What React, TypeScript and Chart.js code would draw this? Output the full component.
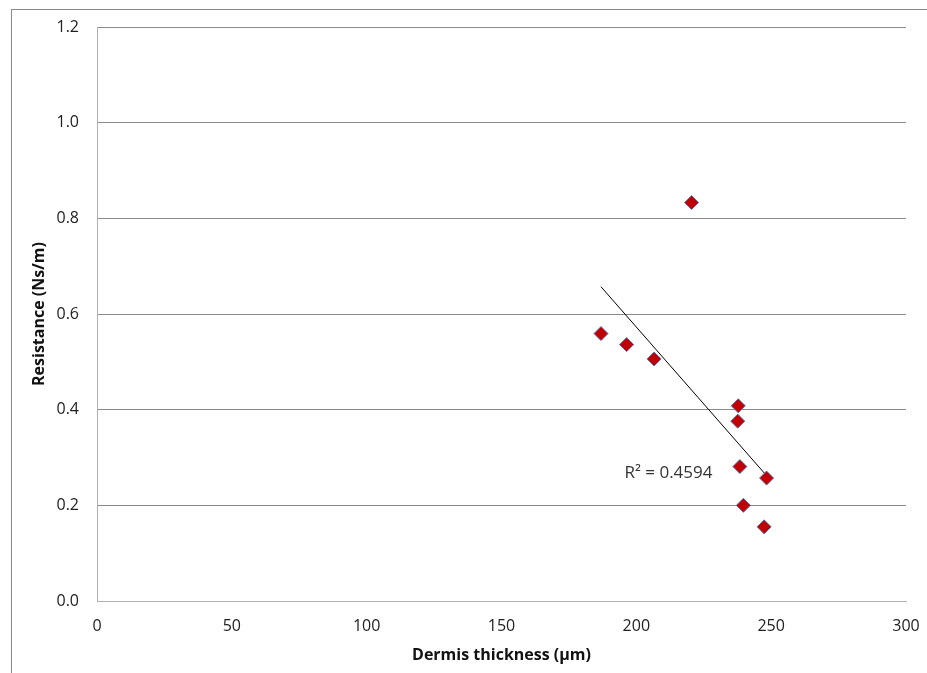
import React, { useEffect, useRef } from "react";
import { Chart, registerables } from "chart.js";

Chart.register(...registerables);

const thicknessUm = [186.9, 196.4, 206.6, 220.5, 237.8, 237.6, 238.4, 248.3, 239.7, 247.4];
const resistanceNsm = [0.559, 0.536, 0.506, 0.833, 0.408, 0.376, 0.281, 0.257, 0.2, 0.155];
const trendX = [186.9, 248.3];
const trendY = [0.657, 0.262];
const r2Label = "R² = 0.4594";
const xTitle = "Dermis thickness (µm)";
const yTitle = "Resistance (Ns/m)";

const FONT = "'Open Sans', 'Liberation Sans', sans-serif";

export default function App() {
  const ref = useRef<HTMLCanvasElement | null>(null);
  useEffect(() => {
    if (!ref.current) return;
    const labelPlugin = {
      id: "r2label",
      afterDatasetsDraw(chart: any) {
        const ctx = chart.ctx;
        const xs = chart.scales.x;
        const ys = chart.scales.y;
        ctx.save();
        ctx.font = `17px ${FONT}`;
        ctx.fillStyle = "#333333";
        ctx.textAlign = "left";
        ctx.textBaseline = "middle";
        ctx.fillText(r2Label, xs.getPixelForValue(195.6), ys.getPixelForValue(0.267));
        ctx.restore();
      },
    };
    const chart = new Chart(ref.current, {
      type: "scatter",
      data: {
        datasets: [
          {
            data: trendX.map((x, i) => ({ x, y: trendY[i] })),
            showLine: true,
            borderColor: "#000000",
            borderWidth: 1,
            pointRadius: 0,
            order: 2,
          },
          {
            data: thicknessUm.map((x, i) => ({ x, y: resistanceNsm[i] })),
            pointStyle: "rectRot",
            pointRadius: 7,
            backgroundColor: "#c00000",
            borderColor: "#5a6aa8",
            borderWidth: 1,
            order: 1,
          },
        ],
      },
      options: {
        animation: false,
        responsive: false,
        layout: { padding: { left: 0, top: 27, right: 21, bottom: 0 } },
        plugins: { legend: { display: false }, tooltip: { enabled: false } },
        scales: {
          x: {
            type: "linear",
            min: 0,
            max: 300,
            ticks: { stepSize: 50, color: "#222", font: { family: FONT, size: 16 }, padding: 16 },
            grid: { display: false, drawTicks: false },
            border: { display: true, color: "#b0b0b0", width: 1 },
            title: { display: true, text: xTitle, color: "#111", font: { family: FONT, size: 16, weight: "bold" }, padding: { top: 4, bottom: 8 } },
            afterFit(s: any) { s.height = 72; s.paddingRight = 0; s.paddingLeft = 0; },
          },
          y: {
            type: "linear",
            min: 0,
            max: 1.2,
            ticks: {
              stepSize: 0.2,
              color: "#222",
              font: { family: FONT, size: 16 },
              padding: 18,
              callback: (v: any) => Number(v).toFixed(1),
            },
            grid: { color: "#8a8a8a", lineWidth: 1, drawTicks: false },
            border: { display: true, color: "#b0b0b0", width: 1 },
            title: { display: true, text: yTitle, color: "#111", font: { family: FONT, size: 16, weight: "bold" }, padding: { top: 30, bottom: 4 } },
            afterFit(s: any) { s.width = 97; s.paddingTop = 0; s.paddingBottom = 0; },
          },
        },
      },
      plugins: [labelPlugin],
    });
    return () => chart.destroy();
  }, []);
  return (
    <div style={{ position: "fixed", left: 0, top: 0, width: 927, height: 673, background: "#fff" }}>
      <div style={{ position: "absolute", left: 11, top: 9, width: 930, height: 680, borderLeft: "1px solid #8a8a8a", borderTop: "1px solid #8a8a8a" }} />
      <canvas ref={ref} width={927} height={673} style={{ position: "absolute", left: 0, top: 0 }} />
    </div>
  );
}
